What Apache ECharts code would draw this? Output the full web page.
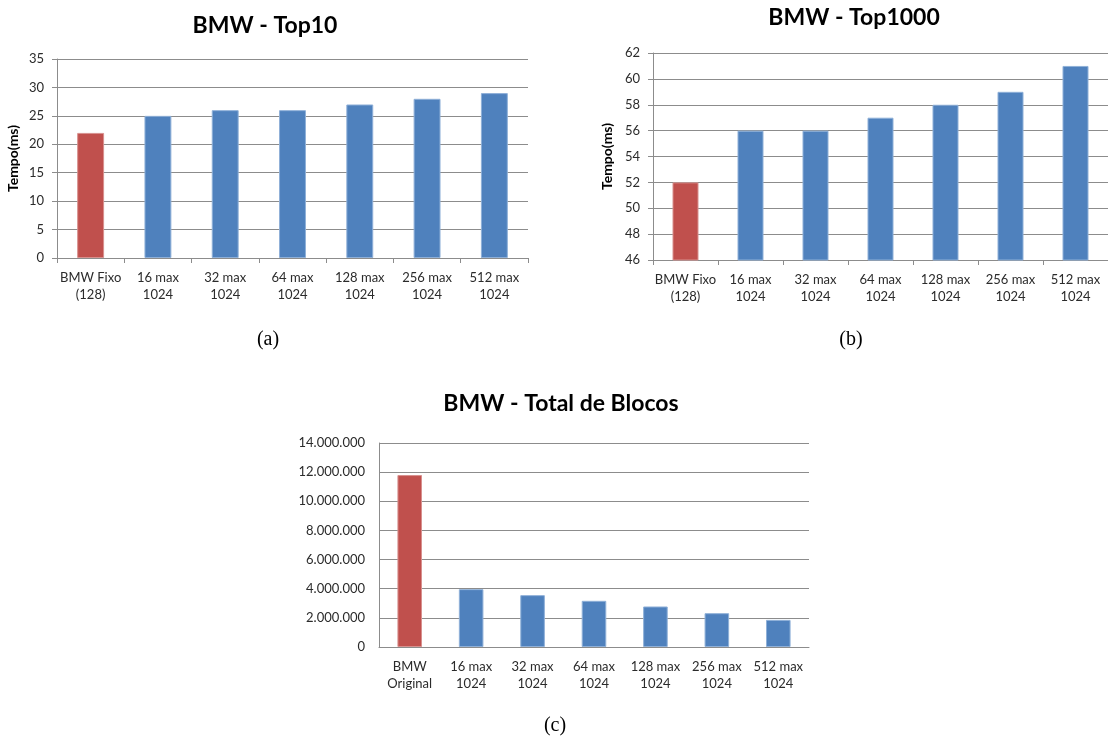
<!DOCTYPE html>
<html>
<head>
<meta charset="utf-8">
<title>BMW - Top10 / Top1000 / Total de Blocos</title>
<script src="https://cdn.jsdelivr.net/npm/echarts@6/dist/echarts.min.js"></script>
<style>
  html, body { margin: 0; padding: 0; background: #ffffff; }
  #chart { width: 1108px; height: 738px; }
</style>
</head>
<body>
<div id="chart"></div>
<script>
// Categories (two-line labels)
const catsTop = ['BMW Fixo\n(128)', '16 max\n1024', '32 max\n1024', '64 max\n1024', '128 max\n1024', '256 max\n1024', '512 max\n1024'];
const catsBlocos = ['BMW\nOriginal', '16 max\n1024', '32 max\n1024', '64 max\n1024', '128 max\n1024', '256 max\n1024', '512 max\n1024'];

// Series values
const top10Ms = [22, 25, 26, 26, 27, 28, 29];
const top1000Ms = [52, 56, 56, 57, 58, 59, 61];
const totalBlocos = [11800000, 3970000, 3560000, 3170000, 2780000, 2320000, 1860000];

// Axis ranges
const top10Axis = { min: 0, max: 35, interval: 5 };
const top1000Axis = { min: 46, max: 62, interval: 2 };
const blocosAxis = { min: 0, max: 14000000, interval: 2000000 };

const titles = ['BMW - Top10', 'BMW - Top1000', 'BMW - Total de Blocos'];
const captions = ['(a)', '(b)', '(c)'];
const yName = 'Tempo(ms)';

const RED = '#C0504D';
const BLUE = '#4F81BD';
const GRID_GRAY = '#8c8c8c';
const TEXT = '#2b2b2b';
const FONT = 'Lato, "Open Sans", sans-serif';

function barData(values) {
  return values.map((v, i) => ({
    value: v,
    itemStyle: {
      color: i === 0 ? RED : BLUE,
      borderColor: i === 0 ? '#d8908e' : '#8fb0d8',
      borderWidth: 1
    }
  }));
}

function dotThousands(v) {
  return String(v).replace(/\B(?=(\d{3})+(?!\d))/g, '.');
}

function xAxis(gridIndex, data, ticks) {
  return {
    type: 'category',
    gridIndex: gridIndex,
    data: data,
    axisLine: { show: true, lineStyle: { color: GRID_GRAY, width: 1 } },
    axisTick: { show: ticks, length: 5, lineStyle: { color: GRID_GRAY } },
    axisLabel: {
      color: TEXT, fontFamily: FONT, fontSize: 13, lineHeight: 17,
      margin: 11, interval: 0
    }
  };
}

function yAxis(gridIndex, range, ticks, opts) {
  return Object.assign({
    type: 'value',
    gridIndex: gridIndex,
    min: range.min,
    max: range.max,
    interval: range.interval,
    axisLine: { show: true, lineStyle: { color: GRID_GRAY, width: 1 } },
    axisTick: { show: ticks, length: 5, lineStyle: { color: GRID_GRAY } },
    splitLine: { show: true, lineStyle: { color: GRID_GRAY, width: 1 } },
    axisLabel: { color: TEXT, fontFamily: FONT, fontSize: 13, margin: 13 }
  }, opts || {});
}

const nameStyle = {
  nameLocation: 'middle',
  nameTextStyle: { color: '#000', fontFamily: FONT, fontSize: 14, fontWeight: 'bold' }
};

const titleStyle = { color: '#000', fontFamily: FONT, fontSize: 23, fontWeight: 'bold' };
const captionStyle = { fill: '#000', font: '20px "Liberation Serif", "DejaVu Serif", serif', align: 'center', verticalAlign: 'middle' };

const chart = echarts.init(document.getElementById('chart'), null, { renderer: 'canvas' });

chart.setOption({
  animation: false,
  backgroundColor: '#ffffff',
  title: [
    { text: titles[0], left: 265, top: 14, textAlign: 'center', padding: 0, textStyle: titleStyle },
    { text: titles[1], left: 854, top: 6, textAlign: 'center', padding: 0, textStyle: titleStyle },
    { text: titles[2], left: 561, top: 392, textAlign: 'center', padding: 0, textStyle: titleStyle }
  ],
  grid: [
    { left: 57, top: 59, width: 471, height: 199 },
    { left: 653, top: 53, width: 458, height: 207 },
    { left: 379, top: 443, width: 430, height: 204 }
  ],
  xAxis: [
    xAxis(0, catsTop, true),
    xAxis(1, catsTop, true),
    xAxis(2, catsBlocos, false)
  ],
  yAxis: [
    yAxis(0, top10Axis, true, Object.assign({ name: yName, nameGap: 37 }, nameStyle)),
    yAxis(1, top1000Axis, true, Object.assign({ name: yName, nameGap: 39 }, nameStyle)),
    yAxis(2, blocosAxis, false, {
      axisLabel: { color: TEXT, fontFamily: FONT, fontSize: 13, margin: 14, formatter: dotThousands }
    })
  ],
  series: [
    { type: 'bar', xAxisIndex: 0, yAxisIndex: 0, barWidth: '40%', data: barData(top10Ms) },
    { type: 'bar', xAxisIndex: 1, yAxisIndex: 1, barWidth: '40%', data: barData(top1000Ms) },
    { type: 'bar', xAxisIndex: 2, yAxisIndex: 2, barWidth: '40%', data: barData(totalBlocos) }
  ],
  graphic: [
    { type: 'text', x: 268, y: 340, style: Object.assign({ text: captions[0] }, captionStyle) },
    { type: 'text', x: 851, y: 340, style: Object.assign({ text: captions[1] }, captionStyle) },
    { type: 'text', x: 555, y: 726, style: Object.assign({ text: captions[2] }, captionStyle) }
  ]
});
</script>
</body>
</html>
